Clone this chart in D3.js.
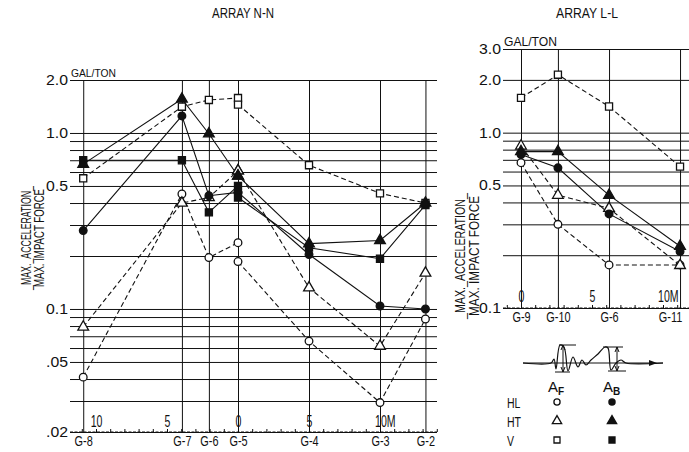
<!DOCTYPE html>
<html>
<head>
<meta charset="utf-8">
<script src="https://cdn.jsdelivr.net/npm/d3@7"></script>
<style>
  body { margin: 0; background: #fff; }
  svg text { font-family: "Liberation Sans", Arial, sans-serif; fill: #111; }
</style>
</head>
<body>
<div id="chart"></div>
<script>
// ---- ARRAY N-N ----
const stationsN = ["G-8", "G-7", "G-6", "G-5", "G-4", "G-3", "G-2"];
const metersN = [-10.9, -3.95, -2.05, 0, 5, 10, 13.2];
// G-5 is read twice: lines coming in and lines going out
const pointsN = ["G-8", "G-7", "G-6", "G-5", "G-5", "G-4", "G-3", "G-2"];
const hlF_N = [0.041, 0.45, 0.196, 0.238, 0.186, 0.0657, 0.0294, 0.0877];
const hlB_N = [0.279, 1.25, 0.44, 0.46, 0.46, 0.204, 0.104, 0.100];
const htF_N = [0.079, 0.40, 0.43, 0.61, 0.61, 0.132, 0.0615, 0.16];
const htB_N = [0.665, 1.56, 0.99, 0.57, 0.57, 0.235, 0.245, 0.40];
const vF_N = [0.553, 1.41, 1.54, 1.58, 1.45, 0.656, 0.454, 0.40];
const vB_N = [0.70, 0.70, 0.354, 0.50, 0.43, 0.223, 0.193, 0.39];
const gridN = [2, 1, 0.9, 0.8, 0.7, 0.6, 0.5, 0.4, 0.3, 0.2, 0.1, 0.09, 0.08, 0.07, 0.06, 0.05, 0.04, 0.03, 0.02];
const tickValsN = [2, 1, 0.5, 0.1, 0.05, 0.02];
const tickLabN = ["2.0", "1.0", "0.5", "0.1", ".05", ".02"];
const distValsN = [-10, -5, 0, 5, 10];
const distLabN = ["10", "5", "0", "5", "10M"];

// ---- ARRAY L-L ----
const stationsL = ["G-9", "G-10", "G-6", "G-11"];
const metersL = [0, 2.6, 6.2, 11.2];
const pointsL = ["G-9", "G-10", "G-6", "G-11"];
const hlF_L = [0.674, 0.30, 0.176, 0.176];
const hlB_L = [0.75, 0.63, 0.344, 0.21];
const htF_L = [0.84, 0.44, 0.37, 0.175];
const htB_L = [0.78, 0.78, 0.44, 0.225];
const vF_L = [1.58, 2.14, 1.41, 0.64];
const gridL = [3, 2, 1, 0.9, 0.8, 0.7, 0.6, 0.5, 0.4, 0.3, 0.2, 0.1];
const tickValsL = [3, 2, 1, 0.5, 0.1];
const tickLabL = ["3.0", "2.0", "1.0", "0.5", "0.1"];
const distValsL = [0, 5, 10];
const distLabL = ["0", "5", "10M"];

const svg = d3.select("#chart").append("svg")
  .attr("width", 689)
  .attr("height", 452);

const ink = "#111";

// squeeze text sideways, the original lettering is tall and narrow
function narrow(sel, k) {
  sel.each(function () {
    const w = this.getComputedTextLength();
    d3.select(this).attr("textLength", w * k).attr("lengthAdjust", "spacingAndGlyphs");
  });
}
function fitTo(sel, w) {
  sel.attr("textLength", w).attr("lengthAdjust", "spacingAndGlyphs");
}

const sym = {
  circle: d3.symbol().type(d3.symbolCircle).size(46),
  triangle: d3.symbol().type(d3.symbolTriangle).size(50),
  square: d3.symbol().type(d3.symbolSquare).size(50)
};

function drawPanel(cfg) {
  const g = svg.append("g");
  const x = d3.scaleLinear().domain([0, 10]).range(cfg.xRange);
  const y = d3.scaleLog().domain(cfg.yDomain).range(cfg.yRange);
  const posOf = Object.fromEntries(cfg.stations.map((s, i) => [s, cfg.meters[i]]));

  // horizontal grid
  const hg = g.append("g")
    .attr("transform", `translate(${cfg.gx0},0)`)
    .call(d3.axisLeft(y).tickValues(cfg.grid).tickSize(-(cfg.gx1 - cfg.gx0)).tickFormat(""));
  hg.select(".domain").remove();
  hg.selectAll("line").attr("stroke", ink).attr("stroke-width", 1);

  // vertical station lines
  const vg = g.append("g")
    .attr("transform", `translate(0,${cfg.yRange[0]})`)
    .call(d3.axisBottom(x).tickValues(cfg.meters).tickSize(-(cfg.yRange[0] - cfg.yRange[1])).tickFormat(""));
  vg.select(".domain").remove();
  vg.selectAll("line").attr("stroke", ink).attr("stroke-width", 1);

  // y labels
  const yl = g.append("g")
    .attr("transform", `translate(${cfg.gx0},0)`)
    .call(d3.axisLeft(y).tickValues(cfg.tickVals).tickFormat((d, i) => cfg.tickLab[i]).tickSize(0).tickPadding(2));
  yl.select(".domain").remove();
  yl.selectAll("text").style("font-size", "14px");
  fitTo(yl.selectAll("text"), 22);

  // base line with metre ticks
  g.append("line")
    .attr("x1", cfg.gx0).attr("x2", cfg.gx1)
    .attr("y1", cfg.yRange[0]).attr("y2", cfg.yRange[0])
    .attr("stroke", ink).attr("stroke-dasharray", "3,1.5");
  const mt = g.append("g")
    .attr("transform", `translate(0,${cfg.yRange[0]})`)
    .call(d3.axisBottom(x).tickValues(d3.range(cfg.minor[0], cfg.minor[1] + 1)).tickSize(-3).tickFormat(""));
  mt.select(".domain").remove();
  mt.selectAll("line").attr("stroke", ink);

  // distance labels
  const dl = g.append("g")
    .attr("transform", `translate(0,${cfg.yRange[0]})`)
    .call(d3.axisTop(x).tickValues(cfg.distVals).tickFormat((d, i) => cfg.distLab[i]).tickSize(0).tickPadding(cfg.distPad));
  dl.select(".domain").remove();
  dl.selectAll("text").style("font-size", "16px")
    .attr("dx", (d, i) => cfg.distLab[i].endsWith("M") ? "0.3em" : 0);
  narrow(dl.selectAll("text"), 0.66);

  // station labels
  const sl = g.append("g")
    .attr("transform", `translate(0,${cfg.yRange[0]})`)
    .call(d3.axisBottom(x).tickValues(cfg.meters).tickFormat((d, i) => cfg.stations[i]).tickSize(0).tickPadding(4));
  sl.select(".domain").remove();
  sl.selectAll("text").style("font-size", "14px")
    .attr("dx", d => x(d) > 670 ? -10 : 0);
  narrow(sl.selectAll("text"), 0.78);

  // unit
  fitTo(g.append("text")
    .attr("x", cfg.gx0 + 1).attr("y", cfg.yRange[1] - 3)
    .style("font-size", cfg.unitSize + "px")
    .text("GAL/TON"), cfg.unitLen);

  // title
  fitTo(g.append("text")
    .attr("x", cfg.titleX).attr("y", 18)
    .attr("text-anchor", "middle")
    .style("font-size", "14px")
    .text(cfg.title), 62);

  // y axis title (fraction)
  const yt = g.append("g")
    .attr("transform", `translate(${cfg.ytX},${cfg.ytY}) rotate(-90)`);
  fitTo(yt.append("text").attr("x", 0).attr("y", 0).attr("text-anchor", "middle")
    .style("font-size", cfg.ytSize + "px").text("_MAX._ACCELERATION_"), cfg.ytLen);
  fitTo(yt.append("text").attr("x", 0).attr("y", cfg.ytGap).attr("text-anchor", "middle")
    .style("font-size", cfg.ytSize + "px").text("MAX. IMPACT FORCE"), cfg.ytLen - 6);

  // series
  const line = d3.line().x(d => x(d.m)).y(d => y(d.v));
  const order = ["vF", "hlF", "htF", "hlB", "vB", "htB"];
  order.filter(k => cfg.series[k]).forEach(k => {
    const s = cfg.series[k];
    const pts = cfg.points.map((p, i) => ({ m: posOf[p], v: s.values[i] }));
    const parts = cfg.breakAt ? [pts.slice(0, cfg.breakAt), pts.slice(cfg.breakAt)] : [pts];
    parts.forEach(part => {
      g.append("path")
        .datum(part)
        .attr("d", line)
        .attr("fill", "none")
        .attr("stroke", ink)
        .attr("stroke-width", 1.1)
        .attr("stroke-dasharray", s.open ? "5,3" : null);
    });
  });
  order.filter(k => cfg.series[k]).forEach(k => {
    const s = cfg.series[k];
    const pts = cfg.points.map((p, i) => ({ m: posOf[p], v: s.values[i] }));
    g.append("g").selectAll("path")
      .data(pts)
      .join("path")
      .attr("d", sym[s.shape])
      .attr("transform", d => `translate(${x(d.m)},${y(d.v)})`)
      .attr("fill", s.open ? "#fff" : ink)
      .attr("stroke", ink)
      .attr("stroke-width", 1.3);
  });
}

drawPanel({
  title: "ARRAY N-N", titleX: 243,
  stations: stationsN, meters: metersN, points: pointsN, breakAt: 4,
  xRange: [238, 380], yDomain: [0.02, 2], yRange: [432, 80],
  gx0: 70, gx1: 437, grid: gridN, tickVals: tickValsN, tickLab: tickLabN,
  distVals: distValsN, distLab: distLabN, distPad: 5, minor: [-11, 14],
  unitSize: 11, unitLen: 45, ytX: 31, ytY: 238, ytLen: 104, ytGap: 13, ytSize: 14,
  series: {
    hlF: { values: hlF_N, shape: "circle", open: true },
    hlB: { values: hlB_N, shape: "circle", open: false },
    htF: { values: htF_N, shape: "triangle", open: true },
    htB: { values: htB_N, shape: "triangle", open: false },
    vF: { values: vF_N, shape: "square", open: true },
    vB: { values: vB_N, shape: "square", open: false }
  }
});

drawPanel({
  title: "ARRAY L-L", titleX: 587,
  stations: stationsL, meters: metersL, points: pointsL, breakAt: 0,
  xRange: [521, 663], yDomain: [0.1, 3], yRange: [308, 49],
  gx0: 503, gx1: 689, grid: gridL, tickVals: tickValsL, tickLab: tickLabL,
  distVals: distValsL, distLab: distLabL, distPad: 6, minor: [-1, 12],
  unitSize: 13, unitLen: 53, ytX: 465, ytY: 256, ytLen: 126, ytGap: 14, ytSize: 15,
  series: {
    hlF: { values: hlF_L, shape: "circle", open: true },
    hlB: { values: hlB_L, shape: "circle", open: false },
    htF: { values: htF_L, shape: "triangle", open: true },
    htB: { values: htB_L, shape: "triangle", open: false },
    vF: { values: vF_L, shape: "square", open: true }
  }
});

// ---- legend ----
const legendRows = ["HL", "HT", "V"];
const legendShapes = ["circle", "triangle", "square"];
const legendCols = ["F", "B"];

const lg = svg.append("g").attr("transform", "translate(523,363)");

// sketch of the recorded wave
const wave = [[0, 0], [28, 0], [31, -4], [33, 6], [37, -18], [41, -16], [45, 8], [50, -6], [55, 4], [59, -3],
  [63, 2], [68, -3], [75, -9], [82, -16], [85, -15], [88, 7], [93, 0], [98, -3], [103, 0], [140, 0]];
lg.append("line").attr("x1", 0).attr("x2", 140).attr("y1", 0).attr("y2", 0).attr("stroke", ink);
lg.append("path")
  .attr("d", d3.line().curve(d3.curveCatmullRom)(wave))
  .attr("fill", "none").attr("stroke", ink).attr("stroke-width", 1.2);
lg.append("path").attr("d", "M126,-3 L134,0 L126,3 Z").attr("fill", ink);
[[36, 53, -18], [32, 47, 9], [80, 100, -16], [85, 103, 8]].forEach(([a, b, h]) => {
  lg.append("line").attr("x1", a).attr("x2", b).attr("y1", h).attr("y2", h).attr("stroke", ink);
});
[[40, -18, 9], [94, -16, 8]].forEach(([xx, t, b]) => {
  lg.append("line").attr("x1", xx).attr("x2", xx).attr("y1", t).attr("y2", b).attr("stroke", ink);
  lg.append("path").attr("d", `M${xx - 2},${t + 5} L${xx},${t} L${xx + 2},${t + 5}`).attr("fill", "none").attr("stroke", ink);
  lg.append("path").attr("d", `M${xx - 2},${b - 5} L${xx},${b} L${xx + 2},${b - 5}`).attr("fill", "none").attr("stroke", ink);
});

const colX = d3.scalePoint().domain(legendCols).range([557, 612]);
const rowY = d3.scalePoint().domain(legendRows).range([402, 440]);
const smallSym = {
  circle: d3.symbol().type(d3.symbolCircle).size(30),
  triangle: d3.symbol().type(d3.symbolTriangle).size(38),
  square: d3.symbol().type(d3.symbolSquare).size(36)
};

legendCols.forEach(c => {
  const t = svg.append("text")
    .attr("x", colX(c) - 9).attr("y", 392)
    .style("font-size", "15px");
  t.append("tspan").text("A");
  t.append("tspan").attr("dy", 3).style("font-size", "10px").style("font-weight", "bold").text(c);
});

legendRows.forEach((r, i) => {
  const t = svg.append("text")
    .attr("x", 507).attr("y", rowY(r) + 6)
    .style("font-size", "14px")
    .text(r);
  narrow(t, 0.75);
  legendCols.forEach(c => {
    svg.append("path")
      .attr("d", smallSym[legendShapes[i]])
      .attr("transform", `translate(${colX(c)},${rowY(r)})`)
      .attr("fill", c === "F" ? "#fff" : ink)
      .attr("stroke", ink)
      .attr("stroke-width", 1.3);
  });
});
</script>
</body>
</html>
